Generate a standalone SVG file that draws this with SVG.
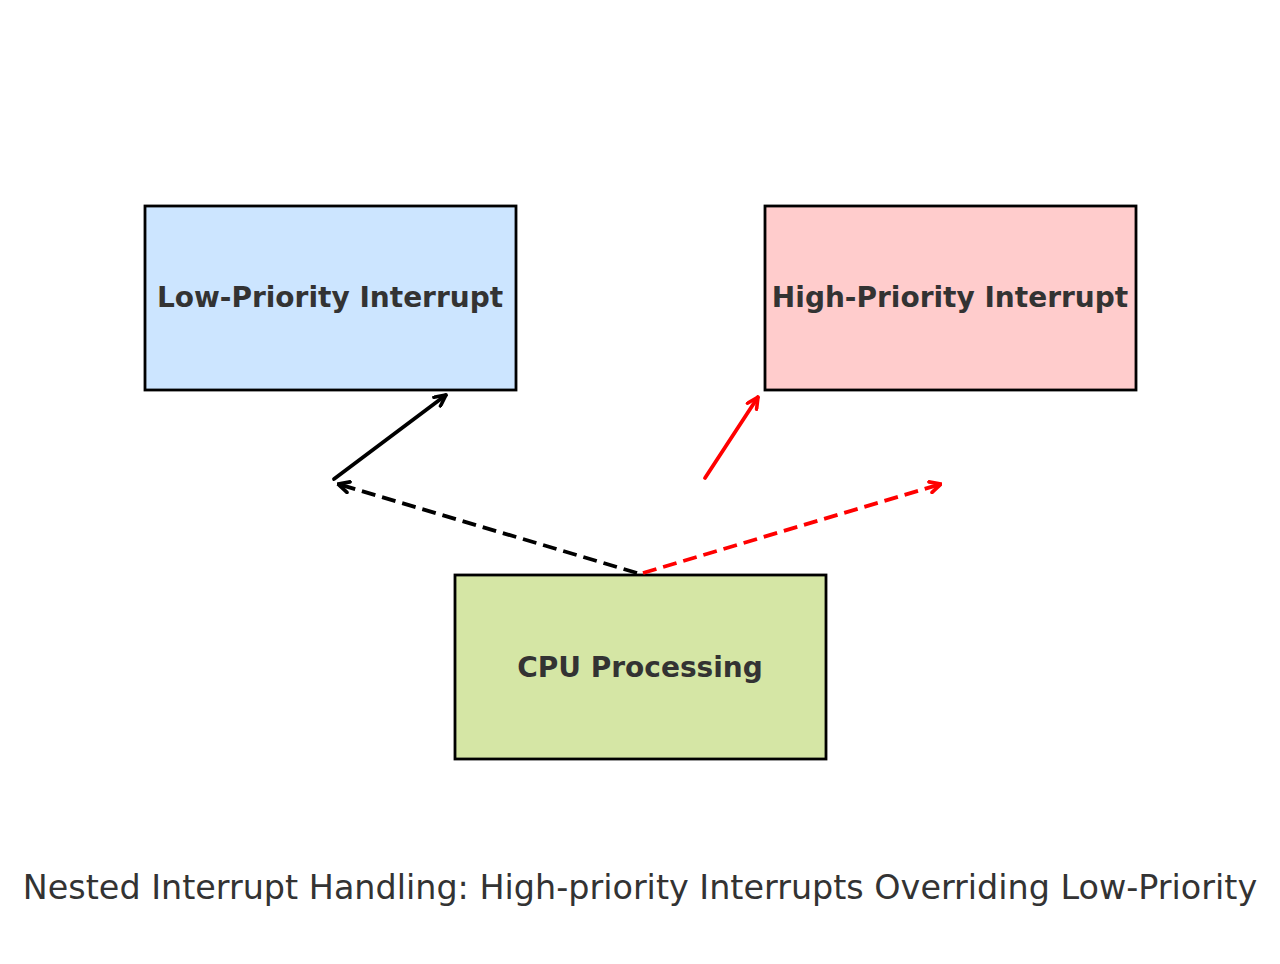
<svg xmlns="http://www.w3.org/2000/svg" width="1280" height="964" viewBox="0 0 1280 964">
<style>
.box{stroke:#000;stroke-width:2.8}
.lbl{font-family:"DejaVu Sans",sans-serif;font-weight:bold;font-size:28px;fill:#333;text-anchor:middle;dominant-baseline:central}
.title{font-family:"DejaVu Sans",sans-serif;font-size:33.4px;fill:#333;text-anchor:middle}
.c{fill:none;stroke-width:3.8;stroke-linecap:round}
.k{stroke:#000}
.r{stroke:#f00}
.d{stroke-dasharray:14,7;stroke-linecap:butt}
</style>
<defs>
<marker id="ak" viewBox="0 0 14 14" refX="13" refY="7" markerWidth="14" markerHeight="14" markerUnits="userSpaceOnUse" orient="auto"><path d="M2,1.5 L13,7 L2,12.5" fill="none" stroke="#000" stroke-width="3.6" stroke-linecap="round" stroke-linejoin="miter"/></marker>
<marker id="ar" viewBox="0 0 14 14" refX="13" refY="7" markerWidth="14" markerHeight="14" markerUnits="userSpaceOnUse" orient="auto"><path d="M2,1.5 L13,7 L2,12.5" fill="none" stroke="#f00" stroke-width="3.6" stroke-linecap="round" stroke-linejoin="miter"/></marker>
</defs>
<rect width="1280" height="964" fill="#fff"/>
<g id="node-low"><rect class="box" x="145" y="206" width="371" height="184" fill="#cce5ff"/><text class="lbl" x="330" y="297">Low-Priority Interrupt</text></g>
<g id="node-high"><rect class="box" x="765" y="206" width="371" height="184" fill="#ffcccc"/><text class="lbl" x="950" y="297">High-Priority Interrupt</text></g>
<g id="node-cpu"><rect class="box" x="455" y="575" width="371" height="184" fill="#d5e6a5"/><text class="lbl" x="640" y="667">CPU Processing</text></g>
<g id="connectors">
<line class="c k" x1="334" y1="479" x2="446" y2="395" marker-end="url(#ak)"/>
<line class="c k d" x1="637" y1="573" x2="338" y2="484" marker-end="url(#ak)"/>
<line class="c r" x1="705" y1="478" x2="758" y2="397" marker-end="url(#ar)"/>
<line class="c r d" x1="643" y1="573" x2="941" y2="484" marker-end="url(#ar)"/>
</g>
<text class="title" x="640" y="899">Nested Interrupt Handling: High-priority Interrupts Overriding Low-Priority</text>
</svg>
